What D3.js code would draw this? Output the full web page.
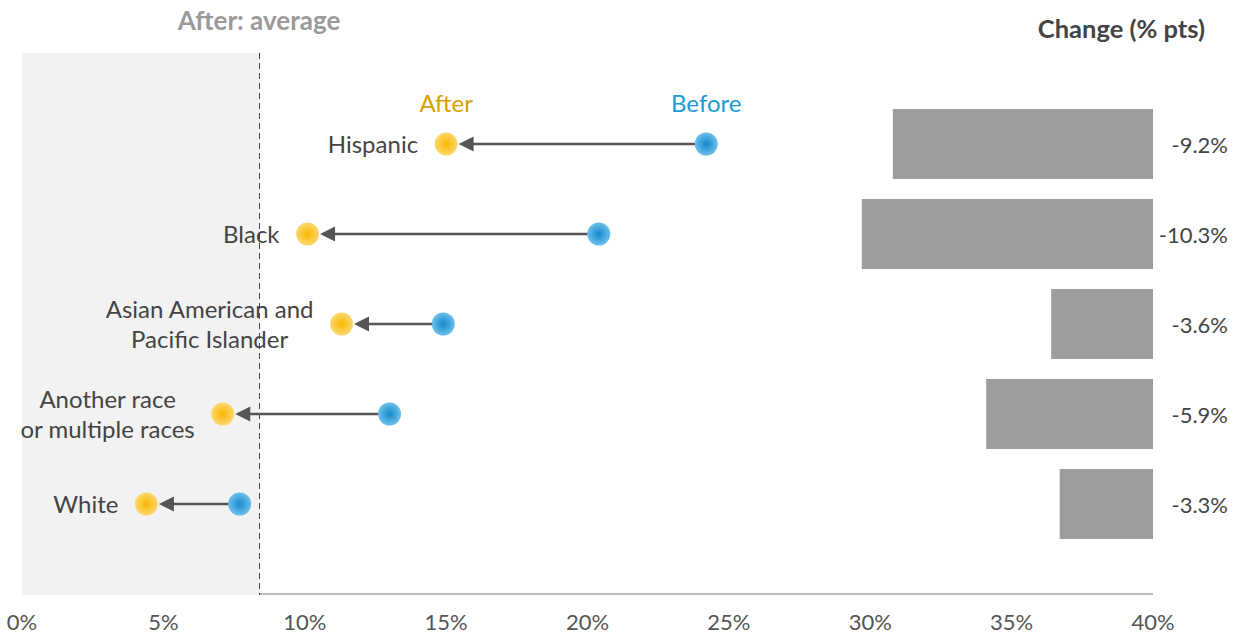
<!DOCTYPE html>
<html>
<head>
<meta charset="utf-8">
<script src="https://cdn.jsdelivr.net/npm/d3@7"></script>
<style>
  body { margin: 0; background: #fff; }
  svg { font-family: Lato, "Noto Sans", sans-serif; }
</style>
</head>
<body>
<svg></svg>
<script>
// data
const groups = [
  ["Hispanic"],
  ["Black"],
  ["Asian American and", "Pacific Islander"],
  ["Another race", "or multiple races"],
  ["White"]
];
const before = [24.2, 20.4, 14.9, 13.0, 7.7];
const after = [15.0, 10.1, 11.3, 7.1, 4.4];
const change = [-9.2, -10.3, -3.6, -5.9, -3.3];
const afterAverage = 8.4;
const xTicks = [0, 5, 10, 15, 20, 25, 30, 35, 40];

const w = 1239, h = 635;
const svg = d3.select("svg").attr("width", w).attr("height", h);

const x = d3.scaleLinear().domain([0, 40]).range([22, 1153]);
const y = d3.scalePoint().domain(d3.range(groups.length)).range([144, 504]);
const plotTop = 53, plotBottom = 595;
const r = 11.5;

const defs = svg.append("defs");
function grad(id, inner, outer) {
  const g = defs.append("radialGradient").attr("id", id);
  g.append("stop").attr("offset", "0%").attr("stop-color", inner);
  g.append("stop").attr("offset", "100%").attr("stop-color", outer);
}
grad("gAfter", "#f9b800", "#fdd871");
grad("gBefore", "#1488cc", "#6cc0ea");

// shaded area below average
svg.append("rect")
  .attr("x", x(0)).attr("y", plotTop)
  .attr("width", x(afterAverage) - x(0)).attr("height", plotBottom - plotTop)
  .attr("fill", "#f2f2f2");

// axis baseline
svg.append("line")
  .attr("x1", x(afterAverage)).attr("x2", x(40))
  .attr("y1", plotBottom - 1).attr("y2", plotBottom - 1)
  .attr("stroke", "#bdbdbd").attr("stroke-width", 2);

svg.append("line")
  .attr("x1", x(afterAverage)).attr("x2", x(afterAverage))
  .attr("y1", plotTop).attr("y2", plotBottom)
  .attr("stroke", "#444").attr("stroke-width", 1)
  .attr("stroke-dasharray", "6,4");

svg.append("text")
  .attr("x", 259).attr("y", 30)
  .attr("text-anchor", "middle")
  .attr("font-size", 26).attr("font-weight", 700)
  .attr("fill", "#9a9a9a")
  .text("After: average");

svg.append("text")
  .attr("x", 1205).attr("y", 38)
  .attr("text-anchor", "end")
  .attr("font-size", 25.5).attr("font-weight", 700)
  .attr("fill", "#444")
  .text("Change (% pts)");

// tick labels
svg.selectAll(".tick")
  .data(xTicks)
  .enter().append("text")
  .attr("x", d => x(d)).attr("y", 630)
  .attr("text-anchor", "middle")
  .attr("font-size", 22).attr("fill", "#555")
  .text(d => d + "%");

// change bars
svg.selectAll(".bar")
  .data(change)
  .enter().append("rect")
  .attr("x", d => x(40 + d))
  .attr("y", (d, i) => y(i) - 35)
  .attr("width", d => x(40) - x(40 + d))
  .attr("height", 70)
  .attr("fill", "#9d9e9c");

svg.selectAll(".val")
  .data(change)
  .enter().append("text")
  .attr("x", 1228).attr("y", (d, i) => y(i) + 9)
  .attr("text-anchor", "end")
  .attr("font-size", 22).attr("fill", "#444")
  .text(d => d.toFixed(1) + "%");

// arrows
groups.forEach((g, i) => {
  const cy = y(i);
  const xa = x(after[i]), xb = x(before[i]);
  svg.append("line")
    .attr("x1", xb).attr("x2", xa + r + 12)
    .attr("y1", cy).attr("y2", cy)
    .attr("stroke", "#555").attr("stroke-width", 2.5);
  const tip = xa + r + 1;
  svg.append("path")
    .attr("d", `M${tip},${cy} L${tip + 15},${cy - 7.5} L${tip + 15},${cy + 7.5} Z`)
    .attr("fill", "#555");
  svg.append("circle").attr("cx", xb).attr("cy", cy).attr("r", r).attr("fill", "url(#gBefore)");
  svg.append("circle").attr("cx", xa).attr("cy", cy).attr("r", r).attr("fill", "url(#gAfter)");

  // category label, lines centred on each other, right edge next to the dot
  const t = svg.append("text")
    .attr("font-size", 24).attr("fill", "#444")
    .attr("text-anchor", "middle");
  const spans = g.map((line, j) => t.append("tspan")
    .attr("y", cy + 9 + (j - (g.length - 1) / 2) * 30)
    .text(line));
  const maxW = d3.max(spans, s => s.node().getComputedTextLength());
  spans.forEach(s => s.attr("x", xa - 28 - maxW / 2));
});

// legend
svg.append("text")
  .attr("x", x(after[0])).attr("y", 112)
  .attr("text-anchor", "middle").attr("font-size", 24)
  .attr("fill", "#d6a100").text("After");
svg.append("text")
  .attr("x", x(before[0])).attr("y", 112)
  .attr("text-anchor", "middle").attr("font-size", 24)
  .attr("fill", "#1b9ad8").text("Before");
</script>
</body>
</html>
